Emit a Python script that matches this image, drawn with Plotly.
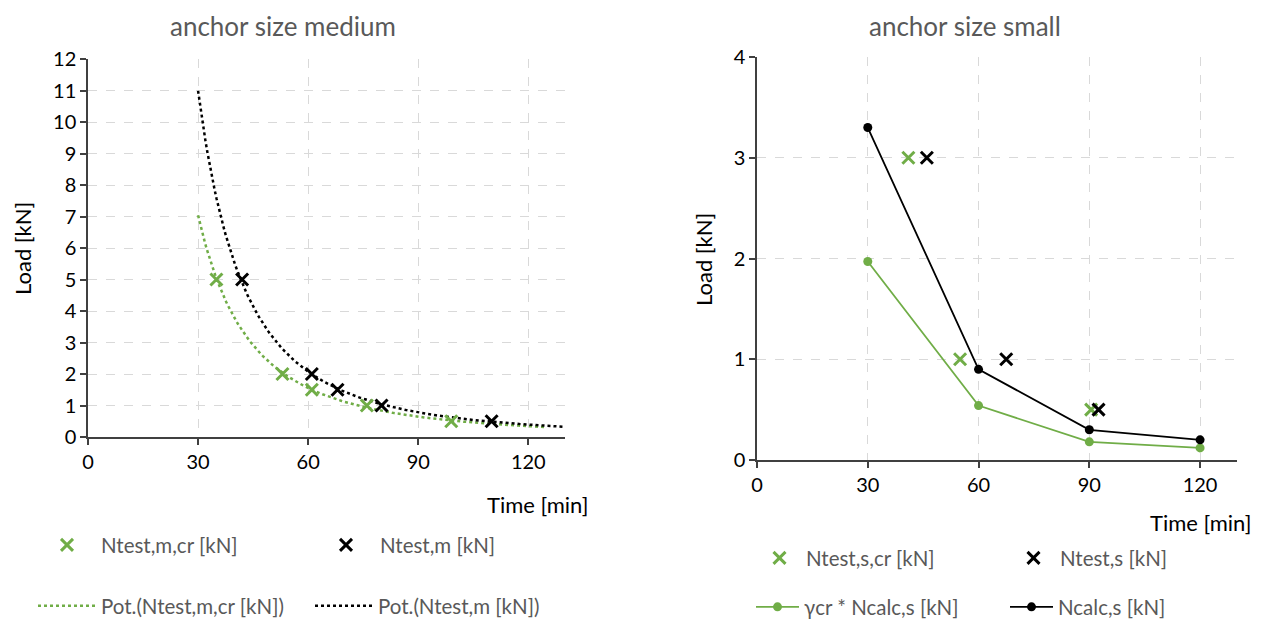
import numpy as np
import plotly.graph_objects as go

W, H = 1265, 621
OFF = 8  # page body margin of the browser

# ---------------- data ----------------
# anchor size medium
m_cr_time = [35, 53, 61, 76, 99]
m_cr_load = [5, 2, 1.5, 1, 0.5]
m_time = [42, 61, 68, 80, 110]
m_load = [5, 2, 1.5, 1, 0.5]

# anchor size small
s_cr_time = [41, 55, 90.5]
s_cr_load = [3, 1, 0.5]
s_time = [46, 67.5, 92.5]
s_load = [3, 1, 0.5]
calc_time = [30, 60, 90, 120]
calc_cr_load = [1.97, 0.54, 0.18, 0.12]
calc_load = [3.3, 0.9, 0.3, 0.2]

x_ticks = [0, 30, 60, 90, 120]
y_ticks_m = list(range(0, 13))
y_ticks_s = [0, 1, 2, 3, 4]

GREEN = "#70AD47"
BLACK = "#000000"
GRID = "#D9D9D9"
TXT = "#595959"
FONT = "Lato"


def power_fit(xs, ys):
    b, ln_a = np.polyfit(np.log(xs), np.log(ys), 1)
    return np.exp(ln_a), b


def trend(xs, ys, x0, x1):
    a, b = power_fit(xs, ys)
    xx = np.linspace(x0, x1, 200)
    return xx, a * xx ** b


XMARK = dict(symbol="x-thin", size=12)

fig = go.Figure()

# ---- left chart ----
tx, ty = trend(m_cr_time, m_cr_load, 30, 125)
fig.add_trace(go.Scatter(x=tx, y=ty, mode="lines", name="Pot.(Ntest,m,cr [kN])",
                         line=dict(color=GREEN, width=2.5, dash="dot"),
                         xaxis="x", yaxis="y", legend="legend2"))
tx, ty = trend(m_time, m_load, 30, 130)
fig.add_trace(go.Scatter(x=tx, y=ty, mode="lines", name="Pot.(Ntest,m [kN])",
                         line=dict(color=BLACK, width=2.5, dash="dot"),
                         xaxis="x", yaxis="y", legend="legend2"))
fig.add_trace(go.Scatter(x=m_cr_time, y=m_cr_load, mode="markers", name="Ntest,m,cr [kN]",
                         marker=dict(**XMARK, line=dict(color=GREEN, width=3)),
                         xaxis="x", yaxis="y", legend="legend"))
fig.add_trace(go.Scatter(x=m_time, y=m_load, mode="markers", name="Ntest,m [kN]",
                         marker=dict(**XMARK, line=dict(color=BLACK, width=3)),
                         xaxis="x", yaxis="y", legend="legend"))

# ---- right chart ----
fig.add_trace(go.Scatter(x=s_cr_time, y=s_cr_load, mode="markers", name="Ntest,s,cr [kN]",
                         marker=dict(**XMARK, line=dict(color=GREEN, width=3)),
                         xaxis="x2", yaxis="y2", legend="legend3"))
fig.add_trace(go.Scatter(x=s_time, y=s_load, mode="markers", name="Ntest,s [kN]",
                         marker=dict(**XMARK, line=dict(color=BLACK, width=3)),
                         xaxis="x2", yaxis="y2", legend="legend3"))
fig.add_trace(go.Scatter(x=calc_time, y=calc_cr_load, mode="lines+markers", name="γcr * Ncalc,s [kN]",
                         line=dict(color=GREEN, width=1.8),
                         marker=dict(symbol="circle", size=9, color=GREEN),
                         xaxis="x2", yaxis="y2", legend="legend4"))
fig.add_trace(go.Scatter(x=calc_time, y=calc_load, mode="lines+markers", name="Ncalc,s [kN]",
                         line=dict(color=BLACK, width=1.8),
                         marker=dict(symbol="circle", size=9, color=BLACK),
                         xaxis="x2", yaxis="y2", legend="legend4"))


def px_x(p):
    return (p - OFF) / W


def px_y(p):
    return 1 - (p - OFF) / H


axis_common = dict(
    showgrid=True, gridcolor=GRID, griddash="dash", gridwidth=1,
    showline=True, linecolor="#404040", linewidth=1.5,
    ticks="outside", ticklen=6, tickcolor="#404040", tickwidth=1.5,
    tickfont=dict(family=FONT, size=20, color="#000000"),
    zeroline=False, mirror=False,
)

legend_common = dict(
    orientation="h", bgcolor="rgba(0,0,0,0)",
    font=dict(family=FONT, size=20.5, color=TXT),
    xanchor="left", yanchor="middle", borderwidth=0,
    tracegroupgap=0,
)

fig.update_layout(
    width=W, height=H,
    margin=dict(l=0, r=0, t=0, b=0, autoexpand=False),
    paper_bgcolor="white", plot_bgcolor="white",
    xaxis=dict(domain=[px_x(88), px_x(565)], range=[0, 130], tickvals=x_ticks,
               anchor="y", **axis_common),
    yaxis=dict(domain=[px_y(437), px_y(59)], range=[0, 12], tickvals=y_ticks_m,
               anchor="x", **axis_common),
    xaxis2=dict(domain=[px_x(757), px_x(1237)], range=[0, 130], tickvals=x_ticks,
                anchor="y2", **axis_common),
    yaxis2=dict(domain=[px_y(460), px_y(57)], range=[0, 4], tickvals=y_ticks_s,
                anchor="x2", **axis_common),
    legend=dict(x=px_x(33), y=px_y(545), entrywidth=206, itemwidth=58, **legend_common),
    legend2=dict(x=px_x(33), y=px_y(606), entrywidth=204, itemwidth=58, **legend_common),
    legend3=dict(x=px_x(753), y=px_y(558), entrywidth=196, itemwidth=43, **legend_common),
    legend4=dict(x=px_x(751), y=px_y(607), entrywidth=196, itemwidth=43, **legend_common),
    showlegend=True,
    annotations=[
        dict(text="anchor size medium", x=px_x(283), y=1, xref="paper", yref="paper",
             showarrow=False, xanchor="center", yanchor="top",
             font=dict(family=FONT, size=26, color=TXT)),
        dict(text="anchor size small", x=px_x(965), y=1, xref="paper", yref="paper",
             showarrow=False, xanchor="center", yanchor="top",
             font=dict(family=FONT, size=26, color=TXT)),
        dict(text="Load [kN]", x=px_x(23), y=px_y(249), xref="paper", yref="paper",
             showarrow=False, textangle=-90, xanchor="center", yanchor="middle",
             font=dict(family=FONT, size=22, color="#000000")),
        dict(text="Load [kN]", x=px_x(703), y=px_y(260), xref="paper", yref="paper",
             showarrow=False, textangle=-90, xanchor="center", yanchor="middle",
             font=dict(family=FONT, size=22, color="#000000")),
        dict(text="Time [min]", x=px_x(590), y=px_y(504), xref="paper", yref="paper",
             showarrow=False, xanchor="right", yanchor="middle",
             font=dict(family=FONT, size=22, color="#000000")),
        dict(text="Time [min]", x=px_x(1253), y=px_y(522), xref="paper", yref="paper",
             showarrow=False, xanchor="right", yanchor="middle",
             font=dict(family=FONT, size=22, color="#000000")),
    ],
)

fig.write_html("out.html")
